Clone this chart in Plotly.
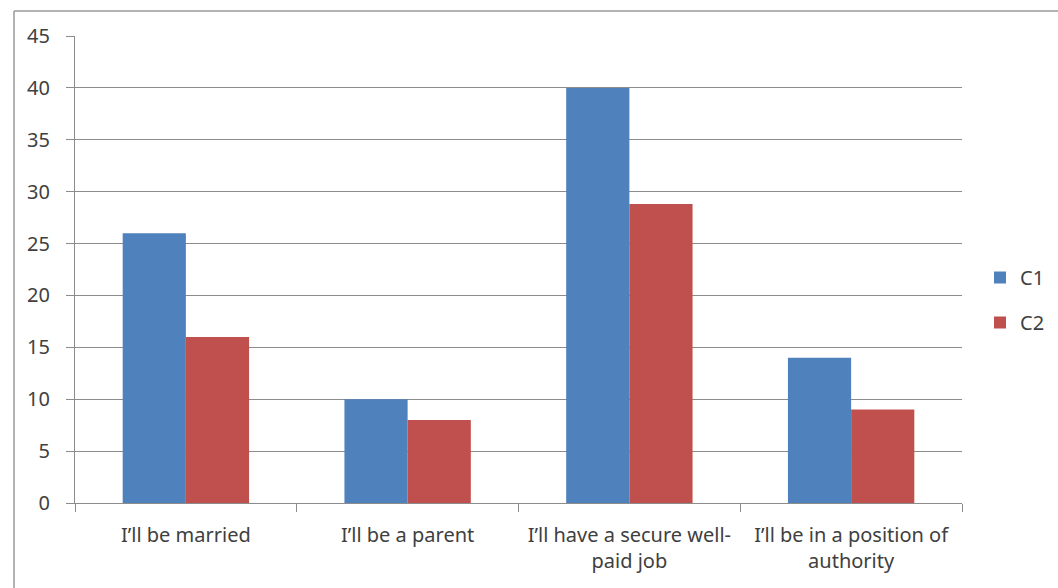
import plotly.graph_objects as go

categories = [
    "I’ll be married",
    "I’ll be a parent",
    "I’ll have a secure well-<br>paid job",
    "I’ll be in a position of<br>authority",
]
c1_values = [26, 10, 40, 14]
c2_values = [16, 8, 28.8, 9]
y_ticks = [0, 5, 10, 15, 20, 25, 30, 35, 40, 45]

W, H = 1058, 588
L, R, T, B = 75, 96, 36, 85
grid = "#8c8c8c"
text_col = "#404040"
font_family = "Noto Sans, Open Sans, sans-serif"

fig = go.Figure()
fig.add_trace(go.Bar(name="C1", x=categories, y=c1_values,
                     marker=dict(color="#4F81BD", line=dict(width=0)),
                     legendgroup="c1"))
fig.add_trace(go.Bar(name="C2", x=categories, y=c2_values,
                     marker=dict(color="#C0504D", line=dict(width=0)),
                     legendgroup="c2"))

# chart-area frame: top and left edges
pw = W - L - R
ph = H - T - B
fx = lambda px: (px - L) / pw
fy = lambda py: (H - B - py) / ph
fig.add_shape(type="line", xref="paper", yref="paper",
              x0=fx(14), y0=fy(11), x1=fx(W + 5), y1=fy(11),
              line=dict(color="#9a9a9a", width=1.5))
fig.add_shape(type="line", xref="paper", yref="paper",
              x0=fx(14), y0=fy(11), x1=fx(14), y1=fy(H + 5),
              line=dict(color="#9a9a9a", width=1.5))

fig.update_layout(
    width=W, height=H,
    margin=dict(l=L, r=R, t=T, b=B, pad=0, autoexpand=False),
    paper_bgcolor="white", plot_bgcolor="white",
    barmode="group", bargap=0.43, bargroupgap=0,
    font=dict(family=font_family, size=20, color=text_col),
    showlegend=True,
    legend=dict(x=fx(980), y=fy(258), xanchor="left", yanchor="top",
                tracegroupgap=16, font=dict(size=20, color=text_col),
                itemwidth=30, bgcolor="rgba(0,0,0,0)"),
    xaxis=dict(
        type="category", showgrid=False,
        showline=True, linecolor=grid, linewidth=1,
        ticks="outside", tickson="boundaries", ticklen=8,
        tickcolor=grid, tickwidth=1,
        ticklabelstandoff=14,
        tickfont=dict(size=20, color=text_col),
    ),
    yaxis=dict(
        range=[0, 45], tickvals=y_ticks, ticktext=[str(v) for v in y_ticks],
        showgrid=True, gridcolor=grid, gridwidth=1,
        showline=True, linecolor=grid, linewidth=1,
        ticks="outside", ticklen=8, tickcolor=grid, tickwidth=1,
        ticklabelstandoff=12,
        tickfont=dict(size=20, color=text_col),
        zeroline=False,
    ),
)

fig.write_html("out.html")
